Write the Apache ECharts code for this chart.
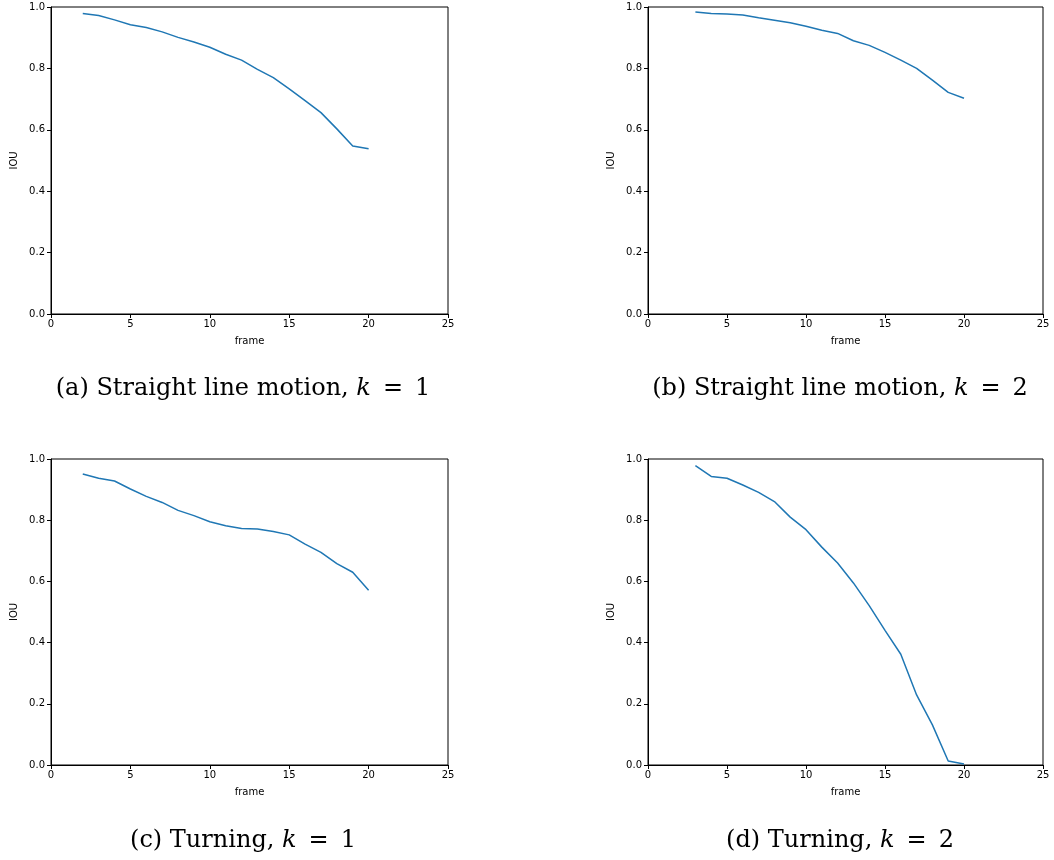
<!DOCTYPE html>
<html>
<head>
<meta charset="utf-8">
<script src="https://cdn.jsdelivr.net/npm/echarts@6/dist/echarts.min.js"></script>
<style>html,body{margin:0;padding:0;background:#fff;}#c{width:1054px;height:860px;}</style>
</head>
<body>
<div id="c"></div>
<script>
// ---- data ----
const framesA = [2,3,4,5,6,7,8,9,10,11,12,13,14,15,16,17,18,19,20];
const iouA = [0.979,0.972,0.958,0.942,0.933,0.919,0.901,0.886,0.869,0.846,0.827,0.797,0.770,0.733,0.695,0.656,0.603,0.547,0.538];
const framesB = [3,4,5,6,7,8,9,10,11,12,13,14,15,16,17,18,19,20];
const iouB = [0.984,0.979,0.977,0.974,0.965,0.957,0.949,0.937,0.924,0.914,0.890,0.875,0.852,0.827,0.800,0.762,0.722,0.703];
const framesC = [2,3,4,5,6,7,8,9,10,11,12,13,14,15,16,17,18,19,20];
const iouC = [0.951,0.937,0.928,0.902,0.878,0.858,0.832,0.815,0.795,0.782,0.773,0.771,0.763,0.752,0.722,0.695,0.658,0.630,0.571];
const framesD = [3,4,5,6,7,8,9,10,11,12,13,14,15,16,17,18,19,20];
const iouD = [0.978,0.943,0.937,0.915,0.891,0.861,0.810,0.769,0.712,0.660,0.595,0.521,0.440,0.362,0.229,0.131,0.013,0.003];
const captions = [
  ['(a) Straight line motion, ', '1'],
  ['(b) Straight line motion, ', '2'],
  ['(c) Turning, ', '1'],
  ['(d) Turning, ', '2']
];
const xTicks = [0,5,10,15,20,25];
const yTicks = [0,0.2,0.4,0.6,0.8,1.0];

// ---- layout ----
const grids = [
  {left:51, top:7, width:397, height:307},
  {left:648, top:7, width:395, height:307},
  {left:51, top:459, width:397, height:306},
  {left:648, top:459, width:395, height:306}
];
const capPos = [[243,389],[840,389],[243,841],[840,841]];
const sets = [[framesA,iouA],[framesB,iouB],[framesC,iouC],[framesD,iouD]];
const tickFont = 'DejaVu Sans';
const capFont = 'DejaVu Serif';
const capSize = 24;

const option = {
  animation:false,
  backgroundColor:'#fff',
  grid: grids.map(g => Object.assign({show:true, borderColor:'#000', borderWidth:1, backgroundColor:'transparent'}, g)),
  xAxis: grids.map((g,i) => ({
    type:'value', gridIndex:i, min:xTicks[0], max:xTicks[xTicks.length-1], interval:5,
    name:'frame', nameLocation:'middle', nameGap:22,
    nameTextStyle:{fontFamily:tickFont, fontSize:10, color:'#000'},
    axisLine:{show:true, lineStyle:{color:'#000', width:1}},
    axisTick:{show:true, length:4, lineStyle:{color:'#000'}},
    axisLabel:{fontFamily:tickFont, fontSize:10, color:'#000', margin:5},
    splitLine:{show:false}
  })),
  yAxis: grids.map((g,i) => ({
    type:'value', gridIndex:i, min:0, max:1, interval:0.2,
    name:'IOU', nameLocation:'middle', nameGap:32, nameRotate:90,
    nameTextStyle:{fontFamily:tickFont, fontSize:10, color:'#000'},
    axisLine:{show:true, lineStyle:{color:'#000', width:1}},
    axisTick:{show:true, length:4, lineStyle:{color:'#000'}},
    axisLabel:{fontFamily:tickFont, fontSize:10, color:'#000', margin:6, formatter:v => v.toFixed(1)},
    splitLine:{show:false}
  })),
  series: sets.map((s,i) => ({
    type:'line', xAxisIndex:i, yAxisIndex:i, showSymbol:false, symbol:'none',
    lineStyle:{color:'#1f77b4', width:1.5},
    data: s[0].map((f,j) => [f, s[1][j]])
  })),
  graphic: captions.map((c,i) => ({
    type:'text', x:capPos[i][0], y:capPos[i][1],
    style:{
      text: c[0] + '{i|k}\u2002=\u2002' + c[1],
      fill:'#000',
      font: capSize + 'px "' + capFont + '"',
      textAlign:'center', textVerticalAlign:'middle',
      rich:{i:{fontStyle:'italic', fontFamily:capFont, fontSize:capSize, fill:'#000'}}
    }
  }))
};
const chart = echarts.init(document.getElementById('c'), null, {renderer:'canvas'});
chart.setOption(option);
</script>
</body>
</html>
